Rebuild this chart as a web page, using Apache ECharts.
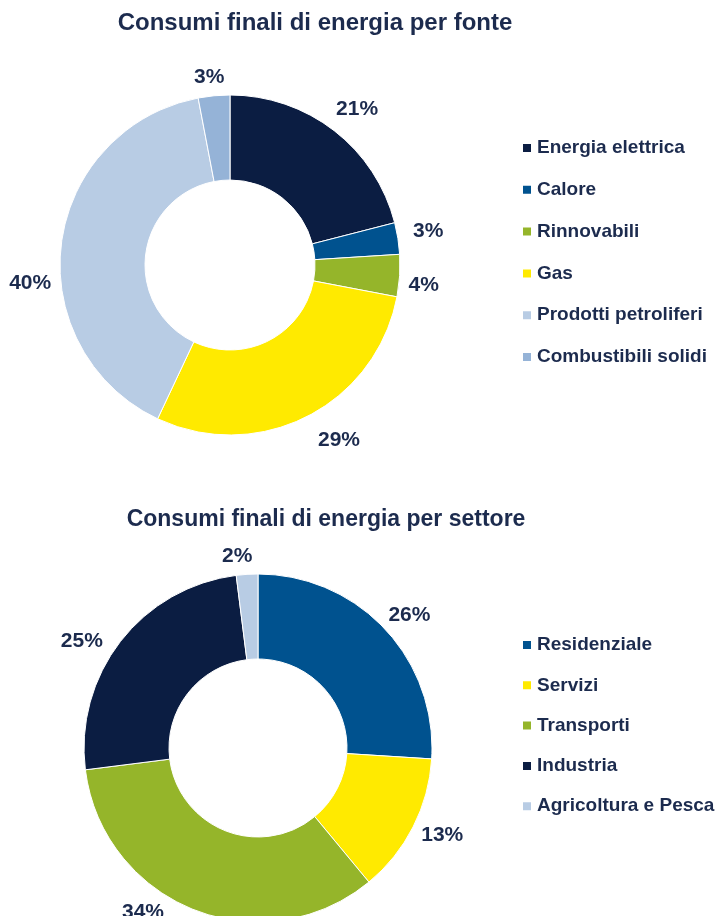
<!DOCTYPE html>
<html>
<head>
<meta charset="utf-8">
<script src="https://cdn.jsdelivr.net/npm/echarts@6/dist/echarts.min.js"></script>
<style>
  html, body { margin: 0; padding: 0; background: #fff; }
  #chart { width: 720px; height: 916px; }
</style>
</head>
<body>
<div id="chart"></div>
<script>
// consumi per fonte
const fonteNames = ['Energia elettrica', 'Calore', 'Rinnovabili', 'Gas', 'Prodotti petroliferi', 'Combustibili solidi'];
const fonteValues = [21, 3, 4, 29, 40, 3];
const fonteColors = ['#0b1d42', '#00528f', '#95b52a', '#ffea00', '#b8cce4', '#95b3d7'];

// consumi per settore
const settoreNames = ['Residenziale', 'Servizi', 'Transporti', 'Industria', 'Agricoltura e Pesca'];
const settoreValues = [26, 13, 34, 25, 2];
const settoreColors = ['#00528f', '#ffea00', '#95b52a', '#0b1d42', '#b8cce4'];

// where the % labels sit: [angle shift from slice middle (deg), distance from centre (px)]
const fonteLabelPos = [[-1.3, 201], [1.4, 200], [-1.6, 193], [5.7, 202], [11.9, 196], [0.4, 188]];
const settoreLabelPos = [[-1.8, 201], [2.6, 201], [-13.6, 195], [5.9, 203], [2.1, 192]];

const textColor = '#1c2b4e';
const font = 'Liberation Sans';
const RING = 198;

const chart = echarts.init(document.getElementById('chart'), null, {renderer: 'canvas'});

function donut(names, values, colors, center, radius) {
  return {
    type: 'pie',
    center: center,
    radius: radius,
    startAngle: 90,
    clockwise: true,
    itemStyle: {borderColor: '#fff', borderWidth: 1},
    label: {show: false},
    labelLine: {show: false},
    emphasis: {disabled: true},
    data: names.map((name, i) => ({name, value: values[i], itemStyle: {color: colors[i]}}))
  };
}

// invisible thin ring outside the donut, only to carry the % labels
function labelRing(names, values, center, pos) {
  const total = values.reduce((a, b) => a + b, 0);
  return {
    type: 'pie',
    center: center,
    radius: [RING - 1, RING + 1],
    startAngle: 90,
    clockwise: true,
    silent: true,
    itemStyle: {color: 'rgba(0,0,0,0)'},
    label: {
      show: true,
      position: 'inside',
      formatter: '{c}%',
      color: textColor,
      fontFamily: font,
      fontWeight: 'bold',
      fontSize: 21
    },
    labelLine: {show: false},
    labelLayout: params => {
      const i = params.dataIndex;
      let before = 0;
      for (let k = 0; k < i; k++) before += values[k];
      const mid = (90 - 360 * (before + values[i] / 2) / total) * Math.PI / 180;
      const moved = mid + pos[i][0] * Math.PI / 180;
      const d = pos[i][1];
      return {
        dx: d * Math.cos(moved) - RING * Math.cos(mid) - 1.5,
        dy: -(d * Math.sin(moved) - RING * Math.sin(mid)) + 2.5
      };
    },
    emphasis: {disabled: true},
    data: names.map((name, i) => ({name, value: values[i]}))
  };
}

function legend(names, top, gap) {
  return {
    orient: 'vertical',
    left: 516,
    top: top,
    icon: 'rect',
    itemWidth: 10,
    itemHeight: 10,
    itemGap: gap,
    selectedMode: false,
    textStyle: {color: textColor, fontFamily: font, fontWeight: 'bold', fontSize: 19, lineHeight: 20},
    data: names
  };
}

chart.setOption({
  animation: false,
  title: [
    {
      text: 'Consumi finali di energia per fonte',
      left: 310, top: 6, textAlign: 'center',
      textStyle: {color: textColor, fontFamily: font, fontWeight: 'bold', fontSize: 24}
    },
    {
      text: 'Consumi finali di energia per settore',
      left: 321, top: 503, textAlign: 'center',
      textStyle: {color: textColor, fontFamily: font, fontWeight: 'bold', fontSize: 23}
    }
  ],
  legend: [
    legend(fonteNames, 133, 21.8),
    legend(settoreNames, 630, 20.3)
  ],
  series: [
    donut(fonteNames, fonteValues, fonteColors, [230, 265], [85, 170]),
    donut(settoreNames, settoreValues, settoreColors, [258, 748], [89, 174]),
    labelRing(fonteNames, fonteValues, [230, 265], fonteLabelPos),
    labelRing(settoreNames, settoreValues, [258, 748], settoreLabelPos)
  ]
});
</script>
</body>
</html>
